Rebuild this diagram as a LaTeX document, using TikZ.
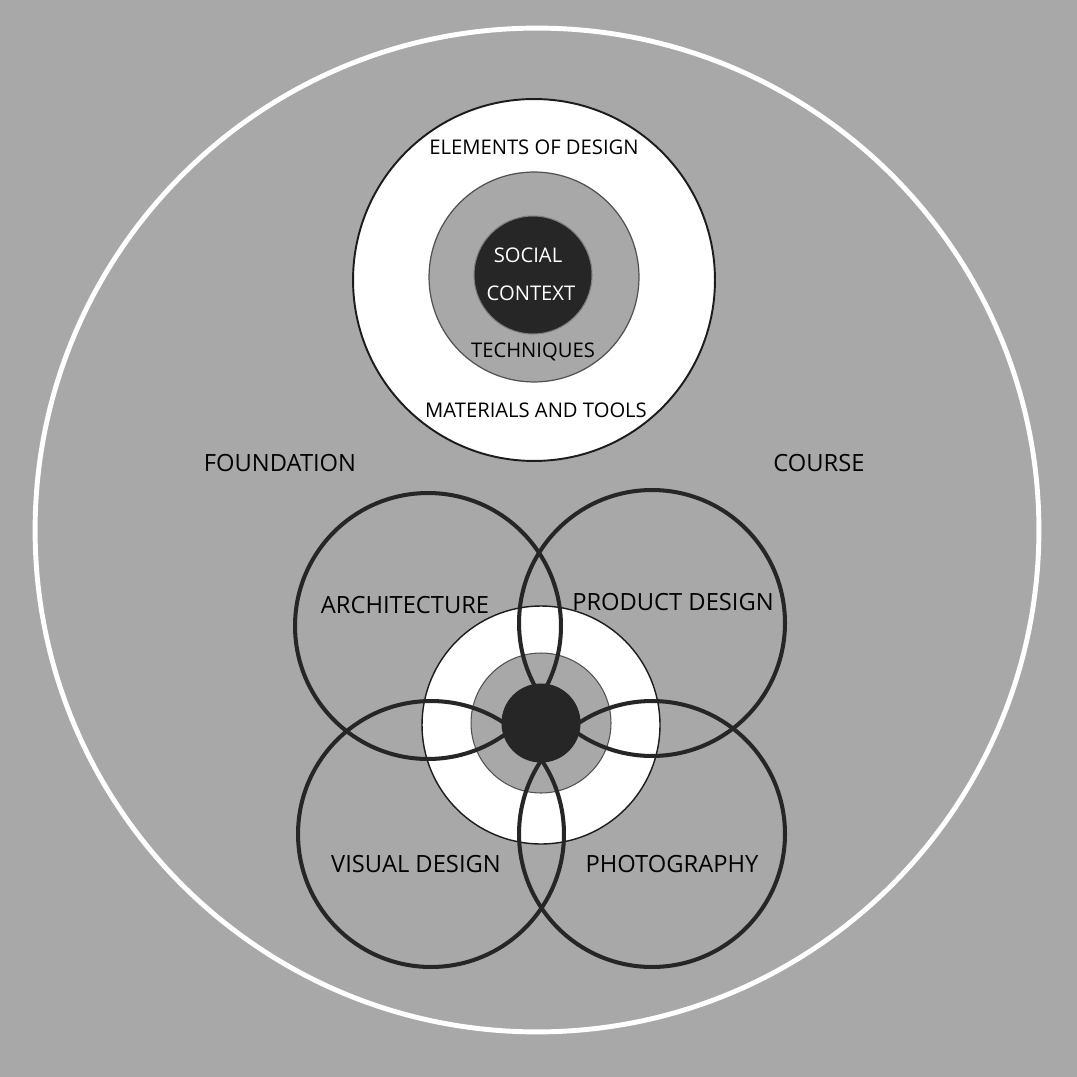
\documentclass[tikz,border=0pt]{standalone}
\usepackage{fontspec}
\setmainfont{Open Sans}
\usetikzlibrary{positioning}
\definecolor{cbg}{HTML}{A8A8A8}
\definecolor{cdark}{HTML}{262626}
\definecolor{cline}{HTML}{1C1C1C}

\begin{document}
\begin{tikzpicture}[
    x=0.02cm, y=0.02cm,
    disc/.style={circle, inner sep=0pt, draw=cline},
    petal/.style={circle, inner sep=0pt, draw=cdark, line width=2.3pt,
                  minimum size=5.32cm},
    lbl/.style={font=\fontsize{11.5}{13}\selectfont, text=black, inner sep=1pt},
    biglbl/.style={font=\fontsize{13.5}{15}\selectfont, text=black, inner sep=1pt},
]
\fill[cbg] (0,-1077) rectangle (1077,0);
\useasboundingbox (0,-1077) rectangle (1077,0);
\node[disc, draw=white, line width=2.8pt, minimum size=20.08cm] (frame) at (537,-530) {};

% top target
\node[disc, fill=white, line width=1.1pt, minimum size=7.24cm] (elem) at (534,-280) {};
\node[disc, fill=cbg, draw=cdark!80, line width=0.7pt, minimum size=4.2cm] (tech) at (534,-277) {};
\node[disc, fill=cdark, draw=cdark!60, line width=0.6pt, minimum size=2.36cm] (social) at (533,-275) {};

\node[lbl] (elemtxt) at (534,-147) {ELEMENTS OF DESIGN};
\node[lbl, text=white] (socialtxt) at (528,-255) {SOCIAL};
\node[lbl, text=white] (contexttxt) at (531,-293) {CONTEXT};
\node[lbl] (techtxt) at (533,-352) {TECHNIQUES};
\node[lbl] (mattxt) at (536,-410) {MATERIALS AND TOOLS};

\node[biglbl] (found) at (280,-463) {FOUNDATION};
\node[biglbl] (course) at (819,-463) {COURSE};

% bottom hub and the four fields
\node[disc, fill=white, line width=0.8pt, minimum size=4.76cm] (hub) at (541,-725) {};
\node[disc, fill=cbg, draw=cdark!80, line width=0.6pt, minimum size=2.8cm] (hubmid) at (541,-723) {};

\node[petal] (arch) at (428,-626) {};
\node[petal] (prod) at (652,-623) {};
\node[petal] (vis)  at (431,-834) {};
\node[petal] (photo) at (652,-834) {};

\node[disc, fill=cdark, draw=cdark, line width=0.6pt, minimum size=1.56cm] (core) at (541,-723) {};

\node[biglbl] (archtxt) at (405,-605) {ARCHITECTURE};
\node[biglbl] (prodtxt) at (673,-602) {PRODUCT DESIGN};
\node[biglbl] (vistxt) at (416,-864) {VISUAL DESIGN};
\node[biglbl] (phototxt) at (672,-864) {PHOTOGRAPHY};
\end{tikzpicture}
\end{document}
